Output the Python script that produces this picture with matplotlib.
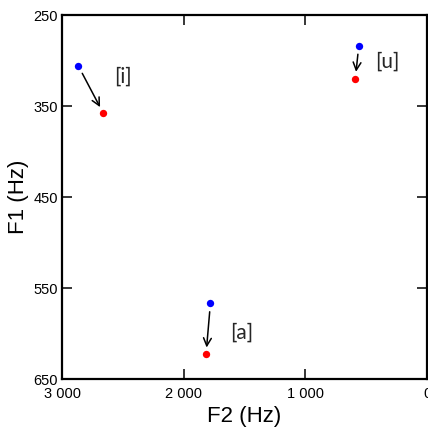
import numpy as np
import matplotlib
matplotlib.use("Agg")
import matplotlib.pyplot as plt
from matplotlib.ticker import FuncFormatter

# formant values (Hz), before -> after
vowels = ["[i]", "[u]", "[a]"]
f2_before = [2866, 562, 1781]
f1_before = [306, 284, 567]
f2_after = [2661, 590, 1817]
f1_after = [358, 320, 623]
label_f2 = [2500, 330, 1520]
label_f1 = [318, 301, 599]

xticks = [3000, 2000, 1000, 0]
yticks = [250, 350, 450, 550, 650]

plt.rcParams['font.family'] = ['Liberation Sans', 'DejaVu Sans']

fig = plt.figure(figsize=(4.28, 4.30), dpi=100)
ax = fig.add_axes([0.145, 0.1186, 0.853, 0.8465])

ax.scatter(f2_before, f1_before, s=28, color='#0000ff', zorder=3, linewidths=0)
ax.scatter(f2_after, f1_after, s=28, color='#ff0000', zorder=3, linewidths=0)

for i in range(len(vowels)):
    ax.annotate("", xy=(f2_after[i], f1_after[i]), xytext=(f2_before[i], f1_before[i]),
                arrowprops=dict(arrowstyle='->', color='black', lw=1.1,
                                shrinkA=6, shrinkB=5, mutation_scale=14))
    ax.text(label_f2[i], label_f1[i], vowels[i], fontsize=15, family=['Lato', 'DejaVu Sans'],
            ha='center', va='center', color='#262626')

ax.set_xlim(3000, 0)
ax.set_ylim(650, 250)
ax.set_xticks(xticks)
ax.set_yticks(yticks)
ax.xaxis.set_major_formatter(FuncFormatter(lambda v, p: f"{v:,.0f}".replace(",", " ")))
ax.tick_params(direction='in', length=7, width=1.1, top=True, right=True,
               labelsize=10.5, pad=3)
ax.tick_params(axis='x', pad=6)
for sp in ax.spines.values():
    sp.set_linewidth(1.6)

ax.set_xlabel("F2 (Hz)", fontsize=16, labelpad=3)
ax.set_ylabel("F1 (Hz)", fontsize=16, labelpad=3)

fig.savefig("out.png", dpi=100)
